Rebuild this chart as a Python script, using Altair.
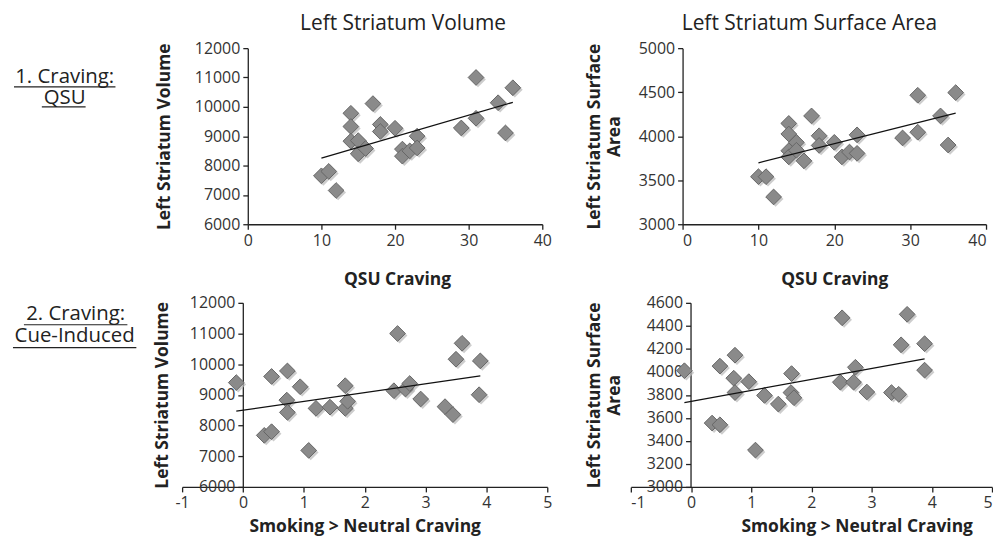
import altair as alt
import pandas as pd

# ---- data ----
x1 = [10, 11, 12, 14, 14, 14, 15, 15, 16, 17, 18, 18, 20, 21, 21, 22, 23, 23, 29, 31, 31, 34, 35, 36]
y1 = [7650, 7800, 7150, 9780, 9330, 8830, 8850, 8400, 8580, 10110, 9400, 9160, 9270, 8560, 8320, 8500,
      9000, 8600, 9280, 11000, 9610, 10140, 9110, 10650]

x2 = [10, 11, 12, 14, 14, 14, 14, 15, 15, 16, 17, 18, 18, 20, 21, 22, 23, 23, 29, 31, 31, 34, 35, 36]
y2 = [3540, 3540, 3310, 4145, 4025, 3835, 3765, 3930, 3840, 3720, 4230, 4005, 3895, 3930, 3765, 3820,
      4015, 3805, 3980, 4465, 4045, 4230, 3900, 4495]

x3 = [-0.11, 0.35, 0.47, 0.47, 0.72, 0.73, 0.73, 0.94, 1.08, 1.2, 1.43, 1.68, 1.68, 1.72, 2.48, 2.54,
      2.67, 2.74, 2.92, 3.32, 3.45, 3.5, 3.6, 3.88, 3.9]
y3 = [9400, 7680, 9600, 7800, 8830, 9780, 8430, 9265, 7190, 8560, 8600, 9300, 8560, 8790, 9135, 11000,
      9190, 9370, 8865, 8616, 8357, 10162, 10681, 9005, 10108]

x4 = [-0.11, 0.35, 0.48, 0.48, 0.71, 0.73, 0.73, 0.96, 1.07, 1.22, 1.45, 1.66, 1.67, 1.71, 2.48, 2.51,
      2.7, 2.73, 2.92, 3.33, 3.45, 3.49, 3.59, 3.88, 3.88]
y4 = [4010, 3555, 4050, 3540, 3945, 4145, 3820, 3915, 3320, 3795, 3720, 3820, 3985, 3775, 3910, 4470,
      3910, 4040, 3825, 3820, 3805, 4235, 4500, 4245, 4015]

col_titles = ["Left Striatum Volume", "Left Striatum Surface Area"]
row_labels = [["1. Craving:", "QSU"], ["2. Craving:", "Cue-Induced"]]
x_titles = ["QSU Craving", "Smoking > Neutral Craving"]
y_titles = ["Left Striatum Volume", ["Left Striatum Surface", "Area"]]

qsu_ticks = [0, 10, 20, 30, 40]
cue_ticks = [-1, 0, 1, 2, 3, 4, 5]
vol_ticks = [6000, 7000, 8000, 9000, 10000, 11000, 12000]
sa_ticks_top = [3000, 3500, 4000, 4500, 5000]
sa_ticks_bot = [3000, 3200, 3400, 3600, 3800, 4000, 4200, 4400, 4600]

FONT = "Open Sans"
LABEL_EXPR = "'' + datum.value"


def panel(xs, ys, xticks, yticks, xtitle, ytitle, yoffset=0, xrange=None, xtitle_x=None,
          ytitle_pad=14, xtitle_pad=10, flush=False):
    df = pd.DataFrame({"x": xs, "y": ys})
    xaxis_kw = dict(values=xticks, title=xtitle, titlePadding=xtitle_pad, labelExpr=LABEL_EXPR,
                    labelOverlap=False, labelFlush=flush)
    if xtitle_x is not None:
        xaxis_kw["titleX"] = xtitle_x
    xscale_kw = dict(domain=[xticks[0], xticks[-1]], nice=False, zero=False)
    if xrange is not None:
        xscale_kw["range"] = xrange
    xs_ = alt.X("x:Q", scale=alt.Scale(**xscale_kw), axis=alt.Axis(**xaxis_kw))
    ys_ = alt.Y("y:Q", scale=alt.Scale(domain=[yticks[0], yticks[-1]], nice=False, zero=False),
                axis=alt.Axis(values=yticks, title=ytitle, offset=yoffset, titlePadding=ytitle_pad,
                              labelExpr=LABEL_EXPR, titleLineHeight=20, labelOverlap=False))
    base = alt.Chart(df)
    shadow = base.mark_point(shape="diamond", filled=True, size=250, color="#b8b8b8", opacity=0.7,
                             xOffset=2, yOffset=2).encode(x=xs_, y=ys_)
    pts = base.mark_point(shape="diamond", filled=True, size=250, fill="#8a8a8a", stroke="#666666",
                          strokeWidth=1, opacity=1).encode(x=xs_, y=ys_)
    line = base.transform_regression("x", "y").mark_line(color="#111111", strokeWidth=1.3).encode(
        x=xs_, y=ys_)
    return [shadow, pts, line]


def label_layers(lines, xcs, ys, under):
    one = pd.DataFrame({"k": [0]})
    layers = []
    for t, xc, yy in zip(lines, xcs, ys):
        layers.append(alt.Chart(one).mark_text(font=FONT, fontSize=20.5, color="#222222", align="center",
                                               baseline="middle").encode(
            x=alt.value(xc), y=alt.value(yy), text=alt.value(t)))
    for (a, b, yy) in under:
        layers.append(alt.Chart(one).mark_rule(color="#222222", strokeWidth=1.2).encode(
            x=alt.value(a), x2=alt.value(b), y=alt.value(yy)))
    return layers


def title(t, dx):
    return alt.TitleParams(t, font=FONT, fontSize=21, fontWeight="normal", color="#222222",
                           offset=6, dx=dx)


# top-left: plot frame spans 182..544, the 0..40 scale sits on 248..544
p1 = alt.layer(
    *panel(x1, y1, qsu_ticks, vol_ticks, x_titles[0], y_titles[0], yoffset=-66, xrange=[66, 362],
           xtitle_x=216, ytitle_pad=21, xtitle_pad=23),
    *label_layers(row_labels[0], [-118, -118], [29, 50], [(-169, -67, 39), (-141, -97, 59)])
).properties(width=362, height=177, title=title(col_titles[0], 41))

p2 = alt.layer(
    *panel(x2, y2, qsu_ticks, sa_ticks_top, x_titles[0], y_titles[1], ytitle_pad=15, xtitle_pad=23,
           flush=True)
).properties(width=305, height=177, title=title(col_titles[1], -25))

p3 = alt.layer(
    *panel(x3, y3, cue_ticks, vol_ticks, x_titles[1], y_titles[0], yoffset=-61, ytitle_pad=18,
           xtitle_pad=7),
    *label_layers(row_labels[1], [-107, -108], [11, 33], [(-159, -55, 22), (-170, -46, 45)])
).properties(width=367, height=185)

p4 = alt.layer(
    *panel(x4, y4, cue_ticks, sa_ticks_bot, x_titles[1], y_titles[1], yoffset=-60,
           xtitle_x=227, ytitle_pad=23, xtitle_pad=7, flush=True)
).properties(width=363, height=185)

row1 = alt.hconcat(p1, p2, spacing=33)
row2 = alt.hconcat(p3, p4, spacing=33)

chart = alt.vconcat(row1, row2, spacing=6).properties(
    padding={"left": 4, "top": 4, "right": 0, "bottom": 0}
).configure_view(stroke=None).configure_axis(
    grid=False, domainColor="#222222", domainWidth=1.3, tickColor="#222222", tickWidth=1.3, tickSize=5,
    labelFont=FONT, labelFontSize=16, labelColor="#333333", labelPadding=3, labelOverlap=False,
    titleFont=FONT, titleFontSize=17.5, titleFontWeight="bold", titleColor="#222222"
)

chart.save("out.html", embed_options={"renderer": "svg", "actions": False})
